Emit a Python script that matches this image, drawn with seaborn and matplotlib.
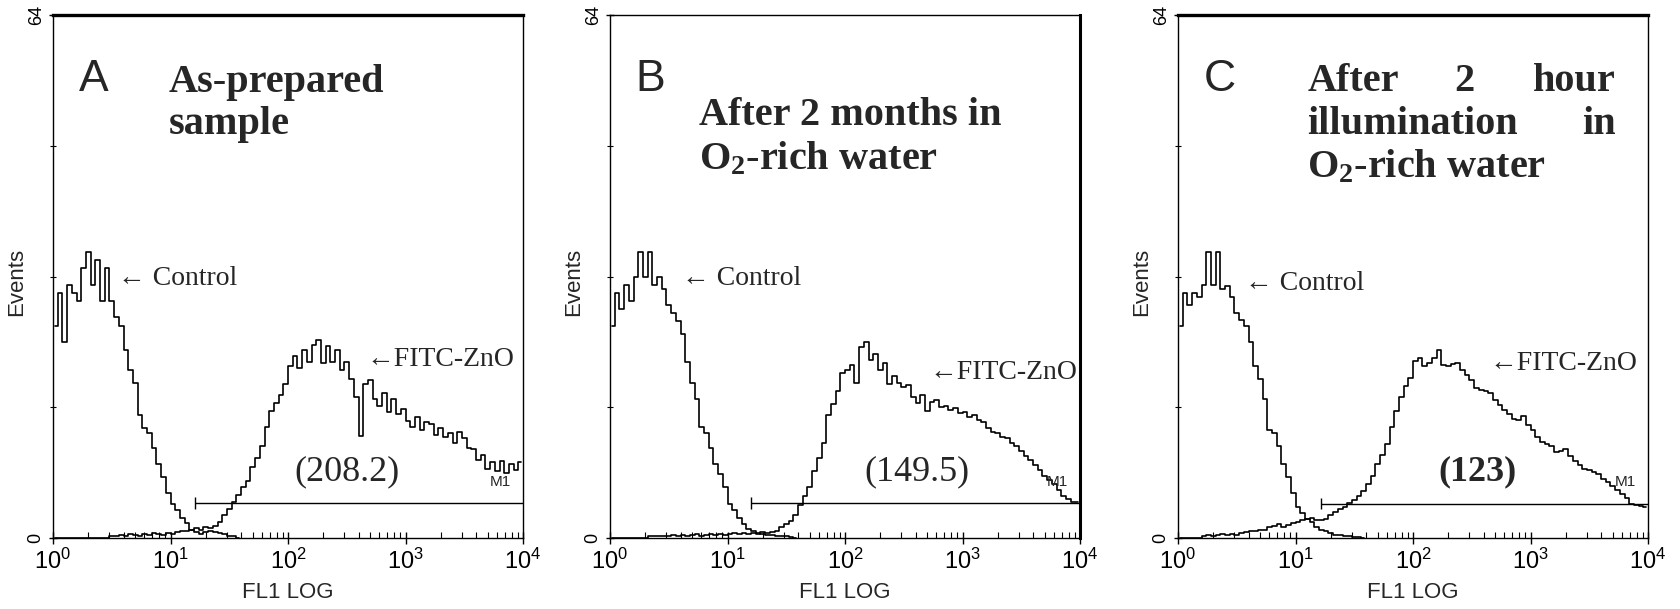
"""
Flow cytometry histograms (FL1 LOG) of FITC-ZnO vs control, three conditions.
"""

import numpy as np
import pandas as pd
import matplotlib
matplotlib.use("Agg")
import matplotlib.pyplot as plt
import seaborn as sns
from matplotlib.ticker import LogLocator, NullFormatter

sns.set_theme(style="ticks")
plt.rcParams["font.family"] = ["Liberation Sans", "DejaVu Sans"]
plt.rcParams["axes.edgecolor"] = "black"
SERIF = ["Liberation Serif", "DejaVu Serif"]

# ---- data (events per FL1 channel, 25 channels per decade, 10^0 .. 10^4) ----
CHANNELS_PER_DECADE = 25

control_a = [26, 30, 24, 31, 30, 29, 33, 35, 31, 34, 29, 33, 29, 27, 26, 23, 20.5, 19, 15, 13.5,
             12.8, 11, 9, 7.5, 5.5, 4.2, 3.4, 2.5, 1.8, 1.0, 0.7, 0.5, 0.7, 0.9, 0.7, 0.6, 0.5, 0.3, 0.2, 0]
fitc_a = [0, 0, 0, 0, 0, 0, 0, 0, 0, 0, 0, 0, 0.3, 0.2, 0.4, 0.3, 0.5, 0.4, 0.3, 0.5,
          0.4, 0.6, 0.5, 0.4, 0.6, 0.5, 0.7, 0.8, 0.9, 1.0, 1.2, 1.0, 1.4, 1.2, 1.5, 1.9, 2.8, 3.6, 4.4, 5.3,
          6.2, 7.0, 8.7, 9.8, 11.2, 13.6, 15.5, 16.5, 17.5, 18.9, 21, 22.3, 20.8, 23, 21.5, 23.6, 24.2, 21.4, 23.5, 21.5,
          23, 20.5, 21.5, 19.5, 17.3, 12.5, 18.9, 19.3, 17, 16.2, 17.8, 15.4, 17, 15.2, 15.8, 14.3, 13.6, 14.8, 13.2, 14.2,
          13.9, 12.6, 13.4, 12.4, 12.9, 11.6, 13.0, 12.2, 11.0, 10.9, 9.6, 10.1, 8.5, 9.3, 8.2, 9.4, 8.0, 9.0, 8.3, 9.3]

control_b = [26, 30, 28, 31, 29, 32, 35, 32, 35, 31, 32, 30.5, 28.5, 27.5, 26.5, 25, 21.5, 19, 17, 13.6,
             12.8, 11, 9, 7.8, 6.2, 4.2, 3.4, 2.4, 1.7, 1.1, 0.8, 0.6, 0.5, 0.4, 0.4, 0.3, 0.3, 0.2, 0.1, 0]
fitc_b = [0, 0, 0, 0, 0, 0, 0, 0, 0.2, 0.3, 0.2, 0.3, 0.3, 0.4, 0.3, 0.4, 0.3, 0.4, 0.5, 0.3,
          0.4, 0.5, 0.4, 0.5, 0.4, 0.5, 0.6, 0.5, 0.6, 0.5, 0.6, 0.5, 0.7, 0.6, 0.7, 0.8, 1.3, 1.7, 2.1, 2.8,
          4.0, 5.2, 6.3, 8.2, 9.8, 11.6, 15.0, 16.4, 18.0, 20.2, 20.5, 21.2, 19.0, 23.4, 24.0, 21.8, 22.5, 20.6, 21.4, 18.9,
          19.8, 19.0, 18.5, 18.7, 17.3, 16.5, 17.5, 15.6, 16.6, 16.9, 16.0, 16.2, 15.7, 15.9, 15.3, 15.4, 14.8, 15.0, 14.4, 14.2,
          13.5, 13.0, 12.9, 12.4, 12.2, 11.6, 11.3, 10.6, 10.0, 9.6, 8.9, 8.3, 7.6, 7.1, 6.6, 5.9, 5.2, 4.8, 4.4, 4.4]

control_c = [26, 30, 28.5, 30, 29.5, 31, 35, 31, 35, 30.5, 30.8, 29.5, 27.5, 26.7, 26, 24, 21, 19.5, 17, 13.2,
             12.8, 11.2, 9, 7.5, 5.5, 3.8, 3.0, 2.3, 1.9, 1.4, 1.0, 0.8, 0.6, 0.4, 0.35, 0.3, 0.25, 0.15, 0.15, 0]
fitc_c = [0, 0, 0, 0, 0, 0.2, 0.4, 0.3, 0.4, 0.5, 0.4, 0.5, 0.4, 0.6, 0.7, 0.8, 0.9, 1.0, 1.0, 1.4,
          1.5, 1.7, 1.4, 1.6, 1.8, 2.0, 2.2, 2.3, 2.4, 2.2, 2.2, 2.3, 2.8, 3.2, 3.5, 3.8, 4.3, 4.7, 5.2, 5.8,
          6.6, 7.6, 9.1, 10.2, 11.5, 13.6, 15.6, 17.2, 18.6, 19.6, 21.6, 22.0, 21.0, 21.4, 22.0, 23.0, 21.2, 21.0, 21.3, 21.4,
          20.5, 20.0, 19.3, 18.3, 18.1, 18.0, 17.7, 16.9, 16.3, 15.7, 15.2, 14.6, 14.4, 14.9, 13.8, 13.2, 12.4, 11.8, 11.5, 11.2,
          10.5, 10.7, 10.9, 10.0, 9.4, 8.9, 8.5, 8.3, 8.1, 7.8, 7.2, 6.8, 6.4, 5.9, 5.4, 4.9, 4.2, 4.0, 3.9, 3.8]

panel_letters = ["A", "B", "C"]
geo_means = ["(208.2)", "(149.5)", "(123)"]
m1_start = [16.1, 16.0, 16.6]     # FL1 value where the M1 gate starts
m1_level = [4.3, 4.3, 4.2]        # events height of the M1 gate bar
x_ticks = [1, 10, 100, 1000, 10000]
x_tick_labels = [r"$\mathregular{10^{%d}}$" % i for i in range(5)]


def channel_centers(n):
    return 10 ** ((np.arange(n) + 0.5) / CHANNELS_PER_DECADE)


def histogram_frame(control, fitc):
    ctrl = pd.DataFrame({"FL1": channel_centers(len(control)), "Events": control, "sample": "Control"})
    fitc = pd.DataFrame({"FL1": channel_centers(len(fitc)), "Events": fitc, "sample": "FITC-ZnO"})
    return pd.concat([ctrl, fitc], ignore_index=True)


panels = [histogram_frame(control_a, fitc_a),
          histogram_frame(control_b, fitc_b),
          histogram_frame(control_c, fitc_c)]

fig = plt.figure(figsize=(16.8, 6.09), dpi=100)
lefts = [53 / 1680, 610 / 1680, 1178 / 1680]
axes = [fig.add_axes([l, 71 / 609, 470 / 1680, 523 / 609]) for l in lefts]

# per-panel placement of annotations
control_label_x = [10 ** 0.55, 10 ** 0.61, 10 ** 0.57]
control_label_y = [31.8, 31.8, 31.2]
fitc_label_x = [10 ** 2.67, 10 ** 2.72, 10 ** 2.65]
fitc_label_y = [21.8, 20.2, 21.4]
mean_label_x = [10 ** 2.5, 10 ** 2.61, 10 ** 2.55]

for i, (ax, df) in enumerate(zip(axes, panels)):
    sns.lineplot(data=df, x="FL1", y="Events", units="sample", estimator=None,
                 drawstyle="steps-mid", color="black", lw=1.2, ax=ax, legend=False)
    ax.set_xscale("log")
    ax.set_xlim(1, 1e4)
    ax.set_ylim(0, 64)

    # M1 gate marker
    ax.hlines(m1_level[i], m1_start[i], 1e4, color="black", lw=1.0)
    ax.vlines(m1_start[i], m1_level[i] - 0.7, m1_level[i] + 0.7, color="black", lw=1.0)
    ax.text(10 ** 3.72, m1_level[i] + 2.6, "M1", fontsize=11, ha="left", va="center")

    # ticks
    ax.set_xticks(x_ticks)
    ax.set_xticklabels(x_tick_labels, fontsize=17)
    ax.xaxis.set_minor_locator(LogLocator(base=10, subs=np.arange(2, 10)))
    ax.xaxis.set_minor_formatter(NullFormatter())
    ax.set_yticks([0, 64])
    ax.set_yticklabels(["0", "64"], rotation=90, va="center", fontsize=13)
    ax.set_yticks([16, 32, 48], minor=True)
    ax.tick_params(axis="x", which="major", direction="inout", length=8, width=1, pad=4, colors="black")
    ax.tick_params(axis="x", which="minor", direction="in", length=4, width=0.8, colors="black")
    ax.tick_params(axis="y", which="major", direction="inout", length=6, width=1, pad=3, colors="black")
    ax.tick_params(axis="y", which="minor", direction="inout", length=5, width=0.8, colors="black")

    ax.set_xlabel("FL1 LOG", fontsize=16)
    ax.set_ylabel("Events", fontsize=16)
    ax.xaxis.set_label_coords(0.5, -0.085)
    ax.yaxis.set_label_coords(-0.055, 0.49)

    for side in ["left", "bottom", "top", "right"]:
        ax.spines[side].set_linewidth(1.0)
    ax.grid(False)

    # curve labels
    ax.text(control_label_x[i], control_label_y[i], "\u2190 Control", family=SERIF,
            fontsize=20, ha="left", va="center")
    ax.text(fitc_label_x[i], fitc_label_y[i], "\u2190FITC-ZnO", family=SERIF,
            fontsize=20, ha="left", va="center")
    ax.text(mean_label_x[i], 8.1, geo_means[i], family=SERIF, fontsize=26,
            ha="center", va="center", fontweight="bold" if i == 2 else "normal")

    # panel letter
    ax.text(0.055, 0.855, panel_letters[i], transform=ax.transAxes, fontsize=32,
            ha="left", va="baseline")

title_kw = dict(family=SERIF, fontsize=29, fontweight="bold", va="baseline")

# A
axes[0].spines["top"].set_linewidth(2.4)
axes[0].text(0.247, 0.853, "As-prepared", transform=axes[0].transAxes, ha="left", **title_kw)
axes[0].text(0.247, 0.772, "sample", transform=axes[0].transAxes, ha="left", **title_kw)

# B
axes[1].spines["right"].set_linewidth(2.2)
axes[1].text(0.19, 0.79, "After 2 months in", transform=axes[1].transAxes, ha="left", **title_kw)
axes[1].text(0.19, 0.705, r"$\mathregular{O_2}$-rich water", transform=axes[1].transAxes,
             ha="left", **title_kw)

# C (justified block)
axes[2].spines["top"].set_linewidth(2.4)
tc = axes[2].transAxes
axes[2].text(0.275, 0.855, "After", transform=tc, ha="left", **title_kw)
axes[2].text(0.61, 0.855, "2", transform=tc, ha="center", **title_kw)
axes[2].text(0.932, 0.855, "hour", transform=tc, ha="right", **title_kw)
axes[2].text(0.275, 0.772, "illumination", transform=tc, ha="left", **title_kw)
axes[2].text(0.932, 0.772, "in", transform=tc, ha="right", **title_kw)
axes[2].text(0.275, 0.69, r"$\mathregular{O_2}$-rich water", transform=tc, ha="left", **title_kw)

fig.savefig("out.png", dpi=100, facecolor="white")
plt.close(fig)
